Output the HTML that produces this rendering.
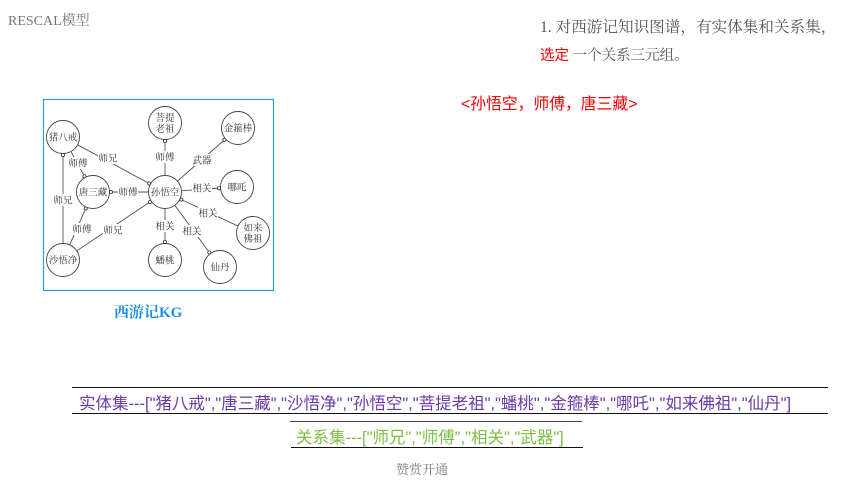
<!DOCTYPE html>
<html><head><meta charset="utf-8"><style>
html,body{margin:0;padding:0;background:#fff;}
body{width:853px;height:480px;position:relative;overflow:hidden;font-family:"Liberation Serif","Noto Serif CJK SC",serif;}
.t{position:absolute;white-space:nowrap;}
.line{position:absolute;height:0;border-top:1.5px solid #111;}
</style></head><body>
<div class="t" style="left:8px;top:10px;font-size:14px;color:#777;">RESCAL模型</div>
<div class="t" style="left:540px;top:15px;font-size:15.6px;color:#555;">1. 对西游记知识图谱，有实体集和关系集，</div>
<div class="t" style="left:540px;top:44px;font-size:14.5px;color:#555;"><span style="color:#e00;font-family:'Liberation Sans','Noto Sans CJK SC',sans-serif;">选定</span> 一个关系三元组。</div>
<div class="t" style="left:461px;top:91px;font-size:15.8px;color:#e00;font-family:'Liberation Sans','Noto Sans CJK SC',sans-serif;">&lt;孙悟空，师傅，唐三藏&gt;</div>
<div class="t" style="left:114px;top:301px;font-size:15px;color:#1a8fe6;font-weight:bold;">西游记KG</div>

<svg style="position:absolute;left:0;top:0" width="853" height="480" id="g">
<rect x="43.5" y="99.5" width="230" height="191" fill="none" stroke="#2a9be8" stroke-width="1.2"/>
</svg>

<div class="line" style="left:72px;width:756px;top:387px;"></div>
<div class="t" style="left:79px;top:390px;font-size:16.5px;color:#6a3aa8;font-family:'Liberation Sans','Noto Sans CJK SC',sans-serif;">实体集---["猪八戒","唐三藏","沙悟净","孙悟空","菩提老祖","蟠桃","金箍棒","哪吒","如来佛祖","仙丹"]</div>
<div class="line" style="left:72px;width:756px;top:413px;"></div>
<div class="line" style="left:290px;width:292px;top:421px;border-top-color:#444;"></div>
<div class="t" style="left:296px;top:424px;font-size:16.5px;color:#7cc142;font-family:'Liberation Sans','Noto Sans CJK SC',sans-serif;">关系集---["师兄","师傅","相关","武器"]</div>
<div class="line" style="left:291px;width:292px;top:447px;"></div>
<div class="t" style="left:396px;top:459px;font-size:13px;color:#777;">赞赏开通</div>

<script>
var N={
'猪八戒':[63,137],'菩提':[165,123],'金箍棒':[238,128],'唐三藏':[93,192],'孙悟空':[165,192],
'哪吒':[237,187],'如来':[253,233],'沙悟净':[63,260],'蟠桃':[165,260],'仙丹':[220,267]};
var L={'菩提':['菩提','老祖'],'如来':['如来','佛祖']};
var R=16.5;
var E=[['猪八戒','孙悟空','师兄',108,158],['猪八戒','唐三藏','师傅',78,163],['孙悟空','菩提','师傅',165,157],
['孙悟空','金箍棒','武器',202,160],['孙悟空','唐三藏','师傅',128,192],['孙悟空','哪吒','相关',202,188],
['如来','孙悟空','相关',208,213],['孙悟空','蟠桃','相关',165,226],['孙悟空','仙丹','相关',192,231],
['沙悟净','猪八戒','师兄',63,200],['沙悟净','唐三藏','师傅',82,229],['沙悟净','孙悟空','师兄',113,230]];
var s='',g=document.getElementById('g');
E.forEach(function(e){var a=N[e[0]],b=N[e[1]],dx=b[0]-a[0],dy=b[1]-a[1],d=Math.hypot(dx,dy),ux=dx/d,uy=dy/d;
var x1=a[0]+ux*R,y1=a[1]+uy*R,x2=b[0]-ux*(R+1.5),y2=b[1]-uy*(R+1.5);
s+='<line x1="'+x1+'" y1="'+y1+'" x2="'+x2+'" y2="'+y2+'" stroke="#555" stroke-width="0.9"/>';
s+='<circle cx="'+x2+'" cy="'+y2+'" r="1.6" fill="#fff" stroke="#333" stroke-width="0.8"/>';
s+='<rect x="'+(e[3]-10)+'" y="'+(e[4]-6)+'" width="20" height="12" fill="#fff"/>';
s+='<text x="'+e[3]+'" y="'+(e[4]+3.5)+'" font-size="9.5" text-anchor="middle" fill="#333" font-family="Noto Serif CJK SC,serif">'+e[2]+'</text>';});
for(var k in N){var p=N[k];s+='<circle cx="'+p[0]+'" cy="'+p[1]+'" r="'+R+'" fill="#fff" stroke="#444" stroke-width="0.9"/>';
if(L[k]){s+='<text x="'+p[0]+'" y="'+(p[1]-2)+'" font-size="9.5" text-anchor="middle" fill="#333" font-family="Noto Serif CJK SC,serif">'+L[k][0]+'</text><text x="'+p[0]+'" y="'+(p[1]+9)+'" font-size="9.5" text-anchor="middle" fill="#333" font-family="Noto Serif CJK SC,serif">'+L[k][1]+'</text>';}
else s+='<text x="'+p[0]+'" y="'+(p[1]+3.5)+'" font-size="9.5" text-anchor="middle" fill="#333" font-family="Noto Serif CJK SC,serif">'+k+'</text>';}
g.insertAdjacentHTML('beforeend',s);
</script>
</body></html>
